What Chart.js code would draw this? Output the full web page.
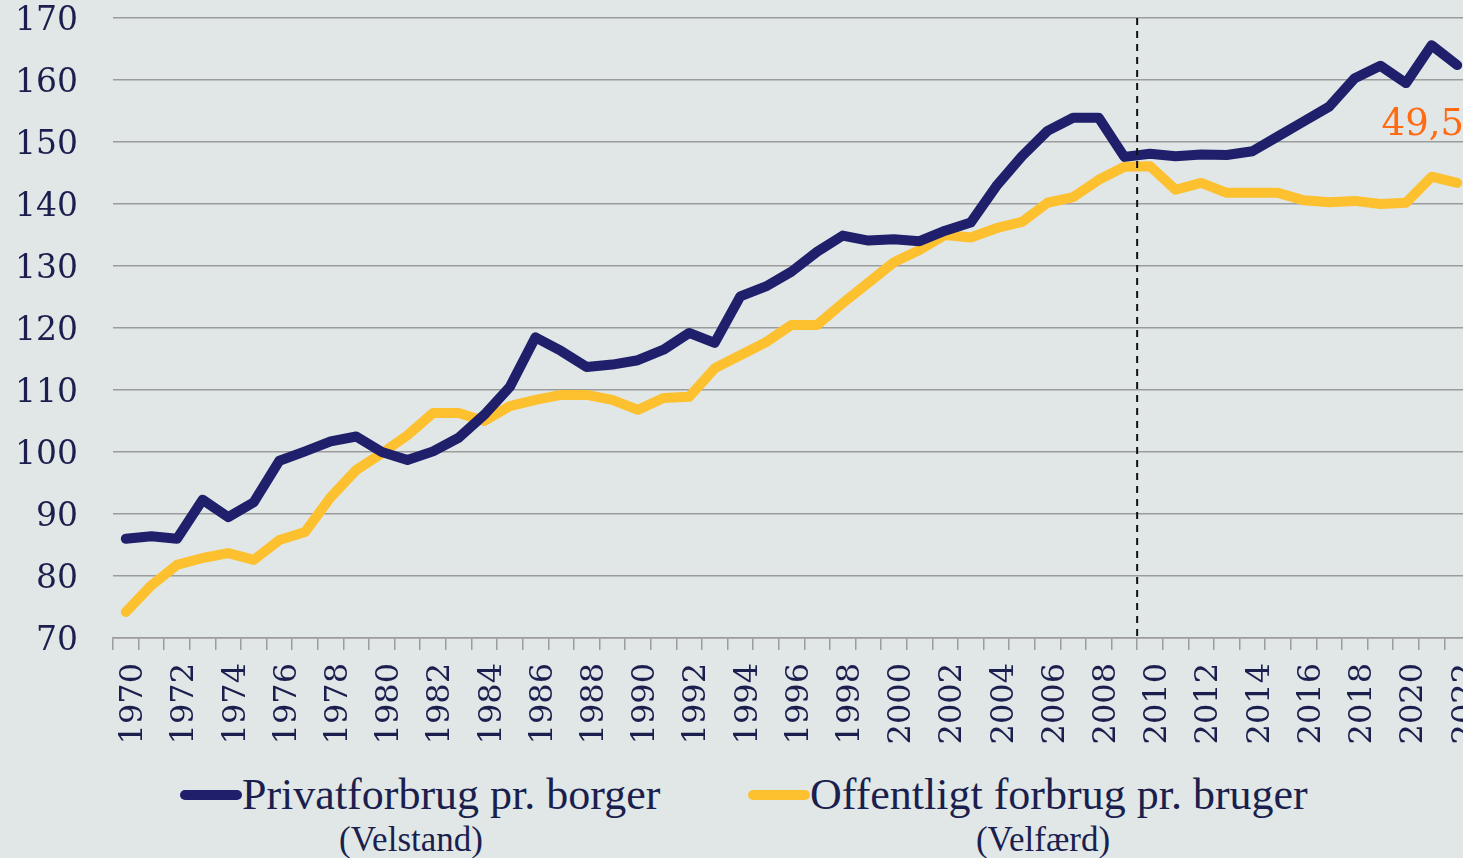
<!DOCTYPE html>
<html>
<head>
<meta charset="utf-8">
<script src="https://cdn.jsdelivr.net/npm/chart.js@4/dist/chart.umd.min.js"></script>
<style>
  html, body { margin: 0; padding: 0; background: #e1e7e7; overflow: hidden; }
  #wrap { position: relative; width: 1472px; height: 858px; }
  #chartBox { position: absolute; left: 0; top: 0; width: 1472px; height: 745px; }
  .leg { position: absolute; font-family: "Liberation Serif", serif; color: #1b1f4e; white-space: nowrap; }
  .leg .swatch { position: absolute; height: 10px; border-radius: 5px; }
  .leg .main { position: absolute; font-size: 44px; line-height: 44px; }
  .leg .sub { position: absolute; font-size: 35px; line-height: 36px; transform: translateX(-50%); }
</style>
</head>
<body>
<div id="wrap">
  <div id="chartBox"><canvas id="myChart"></canvas></div>
  <div id="legend"></div>
</div>
<script>
const years = ['1970','1971','1972','1973','1974','1975','1976','1977','1978','1979',
  '1980','1981','1982','1983','1984','1985','1986','1987','1988','1989',
  '1990','1991','1992','1993','1994','1995','1996','1997','1998','1999',
  '2000','2001','2002','2003','2004','2005','2006','2007','2008','2009',
  '2010','2011','2012','2013','2014','2015','2016','2017','2018','2019',
  '2020','2021','2022'];

// Privatforbrug pr. borger (Velstand)
const privat = [86.0, 86.4, 86.0, 92.3, 89.5, 91.9, 98.6, 100.1, 101.7, 102.5,
  100.0, 98.7, 100.1, 102.3, 106.0, 110.5, 118.5, 116.3, 113.7, 114.1,
  114.8, 116.5, 119.2, 117.6, 125.1, 126.7, 129.1, 132.3, 134.9, 134.1,
  134.3, 134.0, 135.7, 137.0, 142.9, 147.7, 151.8, 153.9, 153.9, 147.6,
  148.1, 147.7, 148.0, 147.9, 148.5, 150.9, 153.3, 155.7, 160.3, 162.3,
  159.5, 165.6, 162.4];

// Offentligt forbrug pr. bruger (Velfærd)
const offentligt = [74.2, 78.5, 81.8, 82.9, 83.7, 82.6, 85.8, 87.1, 92.7, 97.1,
  99.8, 102.7, 106.3, 106.3, 105.0, 107.4, 108.4, 109.2, 109.2, 108.4,
  106.8, 108.7, 108.9, 113.5, 115.6, 117.7, 120.5, 120.5, 124.0, 127.3,
  130.6, 132.6, 135.0, 134.6, 136.1, 137.1, 140.2, 141.1, 143.9, 146.0,
  146.1, 142.3, 143.4, 141.8, 141.8, 141.8, 140.6, 140.3, 140.5, 140.0,
  140.2, 144.4, 143.4];

const seriesNames = ['Privatforbrug pr. borger', 'Offentligt forbrug pr. bruger'];
const seriesSubs = ['(Velstand)', '(Velfærd)'];
const yTicks = [70, 80, 90, 100, 110, 120, 130, 140, 150, 160, 170];

const markerYear = '2010';
const noteText = '49,5';

const NAVY = '#1f1f6b';
const YELLOW = '#fdc02f';
const TEXT = '#1b1f4e';
const GRID = '#9c9c9c';

// dashed vertical line between 2009 and 2010, and the "49,5" note
const extras = {
  id: 'extras',
  afterDatasetsDraw(chart) {
    const { ctx, chartArea, scales } = chart;
    const xs = scales.x, ys = scales.y;
    const i = years.indexOf(markerYear);
    const xLine = (xs.getPixelForValue(i - 1) + xs.getPixelForValue(i)) / 2;
    ctx.save();
    ctx.strokeStyle = '#111';
    ctx.lineWidth = 2;
    ctx.setLineDash([7, 6]);
    ctx.beginPath();
    ctx.moveTo(xLine, chartArea.top);
    ctx.lineTo(xLine, chartArea.bottom + 4);
    ctx.stroke();
    ctx.setLineDash([]);

    const n = years.length;
    const xNote = (xs.getPixelForValue(n - 3) + xs.getPixelForValue(n - 2)) / 2 + 4;
    ctx.fillStyle = '#ff6a13';
    ctx.font = '37px "DejaVu Serif"';
    ctx.textAlign = 'center';
    ctx.textBaseline = 'middle';
    ctx.fillText(noteText, xNote, ys.getPixelForValue(152.6));
    ctx.restore();
  }
};

const data = {
  labels: years,
  datasets: [{
    label: seriesNames[0],
    data: privat,
    borderColor: NAVY,
    borderWidth: 10,
    borderCapStyle: 'round',
    borderJoinStyle: 'round',
    pointRadius: 0,
    tension: 0
  }, {
    label: seriesNames[1],
    data: offentligt,
    borderColor: YELLOW,
    borderWidth: 10,
    borderCapStyle: 'round',
    borderJoinStyle: 'round',
    pointRadius: 0,
    tension: 0
  }]
};

const config = {
  type: 'line',
  data: data,
  options: {
    responsive: true,
    maintainAspectRatio: false,
    animation: false,
    layout: { padding: { left: 16, right: 2, top: 18, bottom: 0 } },
    plugins: {
      legend: { display: false },
      tooltip: { enabled: false }
    },
    scales: {
      x: {
        offset: true,
        grid: {
          offset: true,
          drawOnChartArea: false,
          drawTicks: true,
          tickLength: 12,
          color: GRID,
          lineWidth: 1.5
        },
        border: { display: true, color: GRID, width: 1.5 },
        ticks: {
          autoSkip: false,
          minRotation: 90,
          maxRotation: 90,
          padding: 13,
          labelOffset: 8,
          color: TEXT,
          font: { family: 'DejaVu Serif', size: 32 },
          callback: (v, i) => (i % 2 === 0 ? years[i] : '')
        },
        afterFit: (s) => {
          s.paddingLeft = 0; s.paddingRight = 0;
          s.height = 107;
        }
      },
      y: {
        min: yTicks[0],
        max: yTicks[yTicks.length - 1],
        afterBuildTicks: (axis) => { axis.ticks = yTicks.map(v => ({ value: v })); },
        grid: { drawTicks: false, color: GRID, lineWidth: 1.5 },
        border: { display: false },
        ticks: {
          padding: 35,
          labelOffset: 3,
          color: TEXT,
          font: { family: 'DejaVu Serif', size: 33 }
        },
        afterFit: (s) => {
          s.paddingTop = 0; s.paddingBottom = 0;
          s.width = 97;
        }
      }
    }
  },
  plugins: [extras]
};

const myChart = new Chart(document.getElementById('myChart'), config);

// legend below the chart
const legend = document.getElementById('legend');
const legendPos = [
  { sw: 180, text: 242, sub: 411 },
  { sw: 748, text: 810, sub: 1043 }
];
data.datasets.forEach((ds, k) => {
  const p = legendPos[k];
  const item = document.createElement('div');
  item.className = 'leg';
  item.style.left = '0px';
  item.style.top = '0px';
  item.innerHTML =
    '<div class="swatch" style="left:' + p.sw + 'px;top:790px;width:62px;background:' + ds.borderColor + '"></div>' +
    '<div class="main" style="left:' + p.text + 'px;top:773px">' + ds.label + '</div>' +
    '<div class="sub" style="left:' + p.sub + 'px;top:822px">' + seriesSubs[k] + '</div>';
  legend.appendChild(item);
});
</script>
</body>
</html>
